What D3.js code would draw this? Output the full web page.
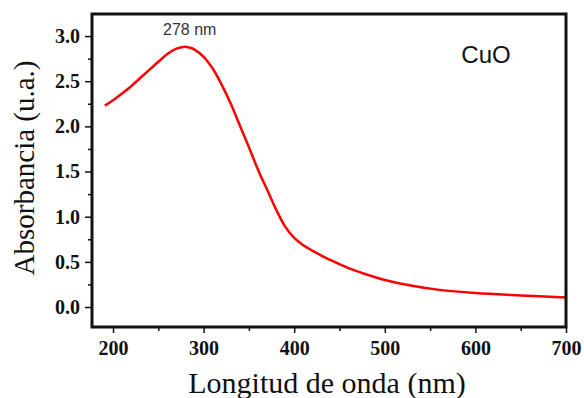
<html>
<head>
    <script src="https://d3js.org/d3.v7.min.js"></script>
    <style>
        body { margin: 0; background: white; }
        .tick text { font-family: "Liberation Serif", "Times New Roman", serif; font-weight: bold; font-size: 20px; fill: #111; }
        .axis path { display: none; }
        .axis line { stroke: #111; stroke-width: 1.5px; }
    </style>
</head>
<body>
<svg id="chart" width="584" height="398"></svg>
<script>
    // data
    const wavelength = [191, 200, 210, 220, 230, 240, 250, 260, 270, 278, 285, 290, 300, 310, 320, 330, 340, 350, 360, 370, 380, 390, 400, 410, 420, 430, 440, 460, 480, 500, 530, 560, 600, 650, 700];
    const absorbance = [2.23, 2.29, 2.365, 2.445, 2.535, 2.625, 2.715, 2.80, 2.86, 2.88, 2.87, 2.85, 2.77, 2.64, 2.46, 2.25, 2.01, 1.77, 1.52, 1.30, 1.08, 0.89, 0.765, 0.685, 0.625, 0.57, 0.52, 0.43, 0.36, 0.30, 0.235, 0.19, 0.155, 0.128, 0.105];
    const xTicks = [200, 300, 400, 500, 600, 700];
    const yTicks = [0, 0.5, 1.0, 1.5, 2.0, 2.5, 3.0];
    const xMinor = [250, 350, 450, 550, 650];
    const yMinor = [0.25, 0.75, 1.25, 1.75, 2.25, 2.75];
    const peakLabel = "278 nm";
    const sampleLabel = "CuO";

    const svg = d3.select("svg#chart");
    const frame = { left: 92, right: 566, top: 14, bottom: 327 };

    const x = d3.scaleLinear().domain([176.8, 700]).range([frame.left, frame.right]);
    const y = d3.scaleLinear().domain([-0.221, 3.244]).range([frame.bottom, frame.top]);

    // minor ticks
    svg.append("g").attr("class", "axis")
        .attr("transform", "translate(" + frame.left + ",0)")
        .call(d3.axisLeft(y).tickValues(yMinor).tickSize(4).tickFormat(""));
    svg.append("g").attr("class", "axis")
        .attr("transform", "translate(0," + frame.bottom + ")")
        .call(d3.axisBottom(x).tickValues(xMinor).tickSize(4).tickFormat(""));

    // major ticks
    svg.append("g").attr("class", "axis")
        .attr("transform", "translate(" + frame.left + ",0)")
        .call(d3.axisLeft(y).tickValues(yTicks).tickSize(7).tickPadding(5).tickFormat(d3.format(".1f")));
    svg.append("g").attr("class", "axis")
        .attr("transform", "translate(0," + frame.bottom + ")")
        .call(d3.axisBottom(x).tickValues(xTicks).tickSize(6).tickPadding(8).tickFormat(d3.format("d")));

    // curve
    const line = d3.line()
        .x((d, i) => x(wavelength[i]))
        .y(d => y(d))
        .curve(d3.curveCatmullRom.alpha(0.5));
    svg.append("path")
        .datum(absorbance)
        .attr("d", line)
        .attr("fill", "none")
        .attr("stroke", "#ff0000")
        .attr("stroke-width", 2.5);

    // frame
    svg.append("rect")
        .attr("x", frame.left).attr("y", frame.top)
        .attr("width", frame.right - frame.left).attr("height", frame.bottom - frame.top)
        .attr("fill", "none")
        .attr("stroke", "#111")
        .attr("stroke-width", 3);

    // labels
    svg.append("text")
        .attr("x", x(278) + 6).attr("y", 35)
        .attr("text-anchor", "middle")
        .style("font-family", "Liberation Sans, Arial, sans-serif")
        .style("font-size", "16px")
        .attr("fill", "#333")
        .text(peakLabel);

    svg.append("text")
        .attr("x", 486).attr("y", 63)
        .attr("text-anchor", "middle")
        .style("font-family", "Liberation Sans, Arial, sans-serif")
        .style("font-size", "24px")
        .attr("fill", "#111")
        .text(sampleLabel);

    svg.append("text")
        .attr("x", 327).attr("y", 393)
        .attr("text-anchor", "middle")
        .style("font-family", "Liberation Serif, Times New Roman, serif")
        .style("font-size", "30px")
        .attr("fill", "#111")
        .text("Longitud de onda (nm)");

    svg.append("text")
        .attr("transform", "translate(34,168) rotate(-90)")
        .attr("text-anchor", "middle")
        .style("font-family", "Liberation Serif, Times New Roman, serif")
        .style("font-size", "29px")
        .attr("fill", "#111")
        .text("Absorbancia (u.a.)");
</script>
</body>
</html>
